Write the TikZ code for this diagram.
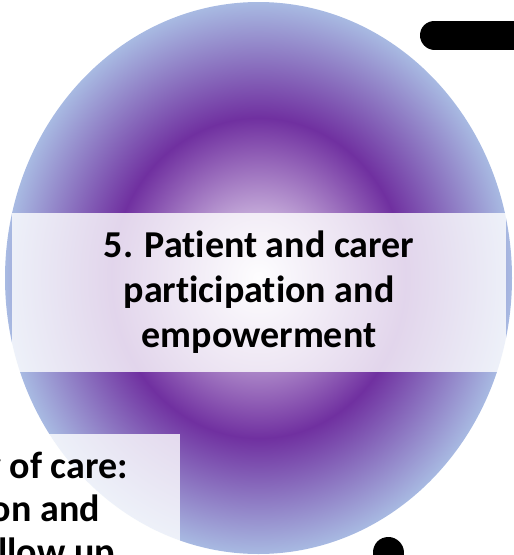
\documentclass[tikz,border=0pt]{standalone}
\usepackage{fontspec}
\setmainfont{Carlito}[Ligatures=NoCommon]
\begin{document}
\definecolor{ballC}{RGB}{250,248,253}
\definecolor{ballP}{RGB}{112,48,160}
\definecolor{ballO}{RGB}{168,186,226}
\pgfdeclareradialshading{ballshade}{\pgfpoint{0bp}{0bp}}{color(0bp)=(ballC); color(14.5bp)=(ballP); color(25bp)=(ballO); color(50bp)=(ballO)}
\begin{tikzpicture}[x=1pt,y=-1pt,
  labelfont/.style={font=\bfseries\fontsize{38}{45}\selectfont},
  bandbox/.style={fill=white, fill opacity=0.8, text opacity=1, inner sep=0pt, align=center, labelfont},
  sidebox/.style={fill=white, fill opacity=0.8, inner sep=0pt},
  sidetext/.style={inner sep=0pt, anchor=base east, labelfont},
  thickbar/.style={line width=29pt, line cap=round, draw=black}]
\useasboundingbox (0,0) rectangle (514,555);
\begin{scope}
\clip (0,0) rectangle (514,555);
% main ball
\shade[shading=ballshade] (258.5,278) ellipse [x radius=253.5pt, y radius=276pt];
% central label band
\node[bandbox, minimum width=494pt, minimum height=159pt] (band) at (259,292.5)
  {5. Patient and carer\\participation and\\empowerment};
% neighbouring label box (lower left)
\node[sidebox, minimum width=220pt, minimum height=140pt, anchor=north east] (side) at (180,434) {};
\node[sidetext] (s1) at (128,478) {Continuity of care:};
\node[sidetext] (s2) at (100,521) {coordination and};
\node[sidetext] (s3) at (115,564) {follow up};
% neighbouring connectors (thick black bars)
\coordinate (barA) at (434.5,35);
\coordinate (barB) at (540,35);
\draw[thickbar] (barA) -- (barB);
\coordinate (barC) at (388,552.5);
\coordinate (barD) at (388,600);
\draw[thickbar, line width=31pt] (barC) -- (barD);
\end{scope}
\end{tikzpicture}
\end{document}
